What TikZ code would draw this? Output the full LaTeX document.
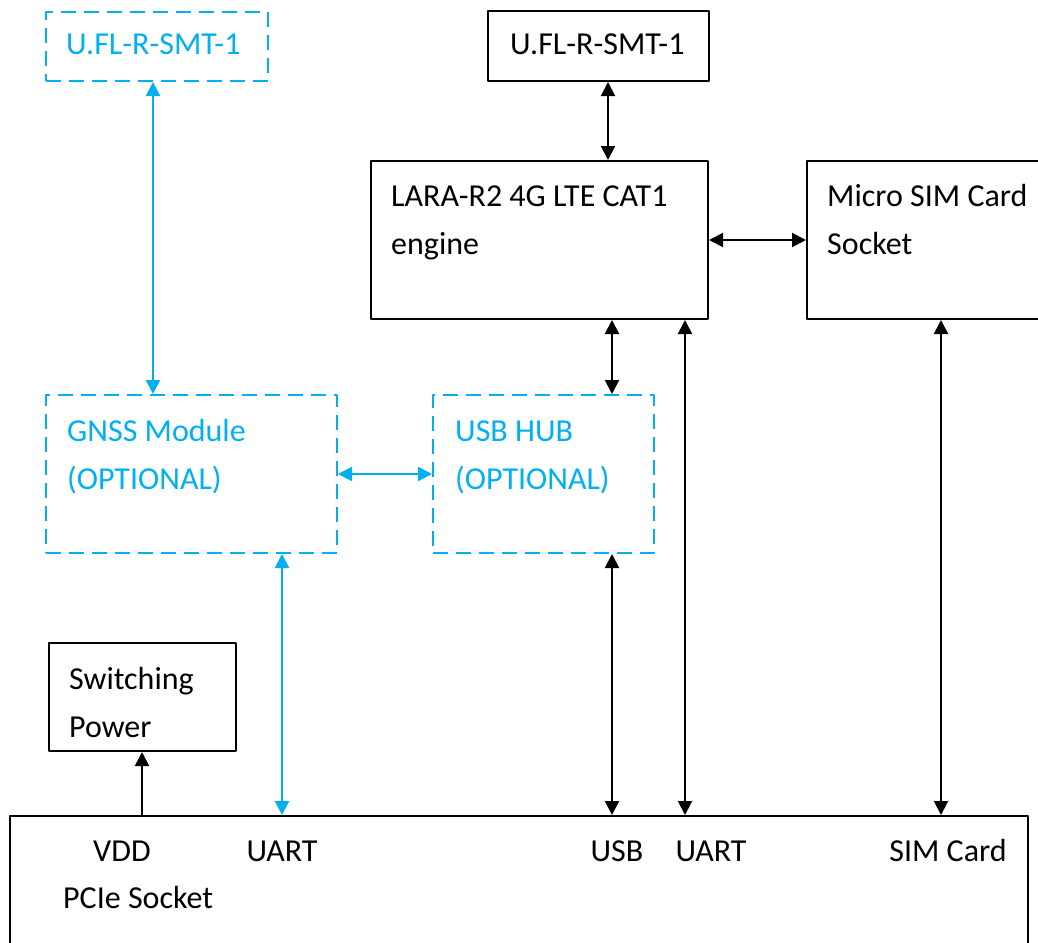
\documentclass[tikz,border=0pt]{standalone}
\usepackage{fontspec}
\setmainfont{Carlito}
\usetikzlibrary{arrows.meta,positioning,calc}
\definecolor{skyblue}{RGB}{0,176,240}

\begin{document}
\begin{tikzpicture}[x=1pt,y=-1pt, line join=round,
  box/.style={draw, line width=2pt, anchor=north west, inner sep=0pt},
  dbox/.style={box, draw=skyblue, dash pattern=on 15pt off 8pt},
  txt/.style={font=\fontsize{32}{48}\selectfont, align=left, inner sep=0pt, anchor=base west},
  port/.style={font=\fontsize{32}{48}\selectfont, inner sep=0pt, anchor=base},
  link/.style={line width=2pt, {Triangle[length=14pt,width=14pt]}-{Triangle[length=14pt,width=14pt]}},
  uplink/.style={line width=2pt, -{Triangle[length=14pt,width=14pt]}}]
\useasboundingbox (0,0) rectangle (1038,942);
% boxes
\node[dbox, minimum width=222pt, minimum height=69pt]  (gpsant) at (45,11)  {};
\node[box,  minimum width=221pt, minimum height=70pt]  (lteant) at (487,10) {};
\node[box,  minimum width=337pt, minimum height=158pt] (lara)   at (370,160) {};
\node[box,  minimum width=240pt, minimum height=158pt] (sim)    at (806,160) {};
\node[dbox, minimum width=291pt, minimum height=158pt] (gnss)   at (45,394) {};
\node[dbox, minimum width=221pt, minimum height=158pt] (hub)    at (432,394) {};
\node[box,  minimum width=187pt, minimum height=108pt] (power)  at (48,642) {};
\node[box,  minimum width=1018pt, minimum height=150pt] (pcie)  at (9,815) {};
% texts (anchored at the last line's baseline)
\node[txt, skyblue] (tgpsant) at (66,55)  {U.FL-R-SMT-1};
\node[txt]          (tlteant) at (510,55) {U.FL-R-SMT-1};
\node[txt]          (tlara)   at (391,254) {LARA-R2 4G LTE CAT1\\engine};
\node[txt]          (tsim)    at (827,254) {Micro SIM Card\\Socket};
\node[txt, skyblue] (tgnss)   at (67,489)  {GNSS Module\\(OPTIONAL)};
\node[txt, skyblue] (thub)    at (455,489) {USB HUB\\(OPTIONAL)};
\node[txt]          (tpower)  at (69,737)  {Switching\\Power};
\node[port] (vdd)   at (122,861) {VDD};
\node[port] (uarta) at (282,861) {UART};
\node[port] (usb)   at (617,861) {USB};
\node[port] (uartb) at (711,861) {UART};
\node[port] (simc)  at (948,861) {SIM Card};
\node[txt]  (tpcie) at (63,908) {PCIe Socket};
% port columns
\coordinate (xgps)  at (153,0);
\coordinate (xlte)  at (608,0);
\coordinate (xhub)  at (612,0);
\coordinate (xuart) at (685,0);
\coordinate (xsim)  at (941,0);
\coordinate (xgu)   at (282,0);
\coordinate (xvdd)  at (142,0);
% connectors
\draw[link] (lteant.south -| xlte) -- (lara.north -| xlte);
\draw[link] (lara.east) -- (lara.east -| sim.west);
\draw[link] (lara.south -| xhub) -- (hub.north -| xhub);
\draw[link] (lara.south -| xuart) -- (pcie.north -| xuart);
\draw[link] (sim.south -| xsim) -- (pcie.north -| xsim);
\draw[link] (hub.south -| xhub) -- (pcie.north -| xhub);
\draw[link, skyblue] (gpsant.south -| xgps) -- (gnss.north -| xgps);
\draw[link, skyblue] (gnss.east) -- (hub.west);
\draw[link, skyblue] (gnss.south -| xgu) -- (pcie.north -| xgu);
\draw[uplink] (pcie.north -| xvdd) -- (power.south -| xvdd);
\end{tikzpicture}
\end{document}
